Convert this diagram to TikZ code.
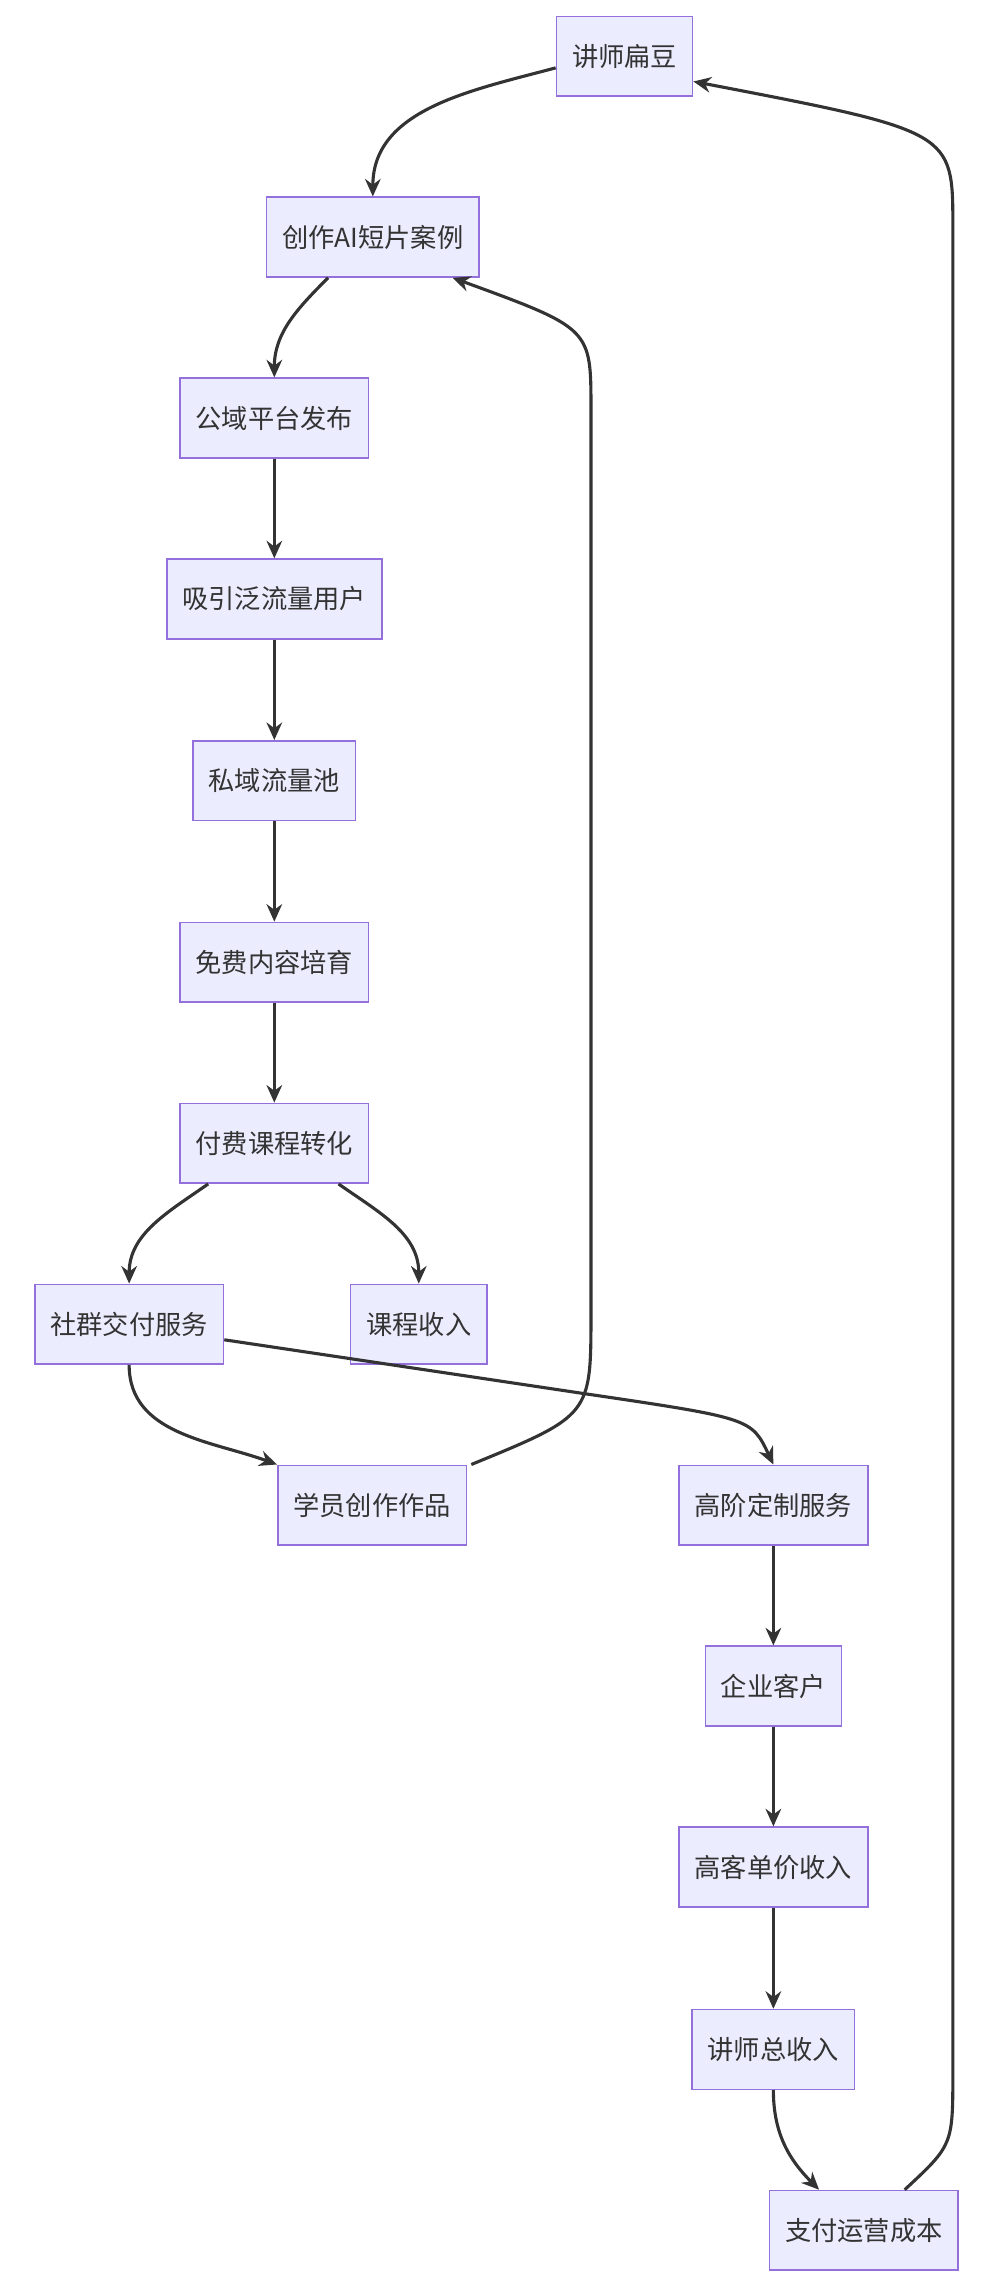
\documentclass[tikz,border=0pt]{standalone}
\usepackage{fontspec}
\setmainfont{Noto Sans CJK SC}
\usetikzlibrary{positioning,arrows.meta}
\definecolor{boxfill}{HTML}{ECECFF}
\definecolor{boxline}{HTML}{9370DB}
\definecolor{flowline}{HTML}{333333}

\begin{document}
\begin{tikzpicture}[x=0.75pt,y=-0.75pt,
    stage/.style={draw=boxline, fill=boxfill, line width=0.8pt, minimum height=41pt, inner xsep=8pt, font=\fontsize{13.5}{16}\selectfont, text=flowline},
    flow/.style={draw=flowline, line width=1.6pt, -{Stealth[length=9pt,width=8pt]}}]
    \useasboundingbox (0,0) rectangle (680,1568);

    \node[stage] (ls) at (428,38.5) {讲师扁豆};
    \node[stage] (cz) at (255.5,162.5) {创作AI短片案例};
    \node[stage] (gy) at (188,286.5) {公域平台发布};
    \node[stage] (xy) at (188,410.5) {吸引泛流量用户};
    \node[stage] (sy) at (188,535) {私域流量池};
    \node[stage] (mf) at (188,659.5) {免费内容培育};
    \node[stage] (ff) at (188,783.5) {付费课程转化};
    \node[stage] (sq) at (88.5,907.5) {社群交付服务};
    \node[stage] (kc) at (287,907.5) {课程收入};
    \node[stage] (xz) at (255,1031.5) {学员创作作品};
    \node[stage] (gj) at (530,1031.5) {高阶定制服务};
    \node[stage] (qy) at (530,1155.5) {企业客户};
    \node[stage] (gk) at (530,1279.5) {高客单价收入};
    \node[stage] (zs) at (530,1404.5) {讲师总收入};
    \node[stage] (zf) at (592,1528.5) {支付运营成本};

    \draw[flow] ([yshift=-6pt]ls.west) to[out=195,in=90] (cz.north);
    \draw[flow] ([xshift=-23pt]cz.south) to[out=225,in=90] (gy.north);
    \draw[flow] (gy) -- (xy);
    \draw[flow] (xy) -- (sy);
    \draw[flow] (sy) -- (mf);
    \draw[flow] (mf) -- (ff);
    \draw[flow] ([xshift=-34pt]ff.south) to[out=215,in=90] (sq.north);
    \draw[flow] ([xshift=33pt]ff.south) to[out=-35,in=90] (kc.north);
    \draw[flow] (sq.south) to[out=-90,in=160] (xz.north west);
    \draw[flow] ([yshift=-8pt]sq.east) -- (400,955) .. controls (515,972) .. (gj.north);
    \draw[flow] ([xshift=51pt]xz.north) .. controls (405,970) .. (405,900)
        -- (405,280) .. controls (405,225) .. ([xshift=-14pt]cz.south east);
    \draw[flow] (gj) -- (qy);
    \draw[flow] (qy) -- (gk);
    \draw[flow] (gk) -- (zs);
    \draw[flow] (zs.south) to[out=-90,in=135] ([xshift=-23pt]zf.north);
    \draw[flow] ([xshift=21pt]zf.north) .. controls (653,1470) .. (653,1420)
        -- (653,155) .. controls (653,90) .. ([yshift=-13pt]ls.east);
\end{tikzpicture}
\end{document}
